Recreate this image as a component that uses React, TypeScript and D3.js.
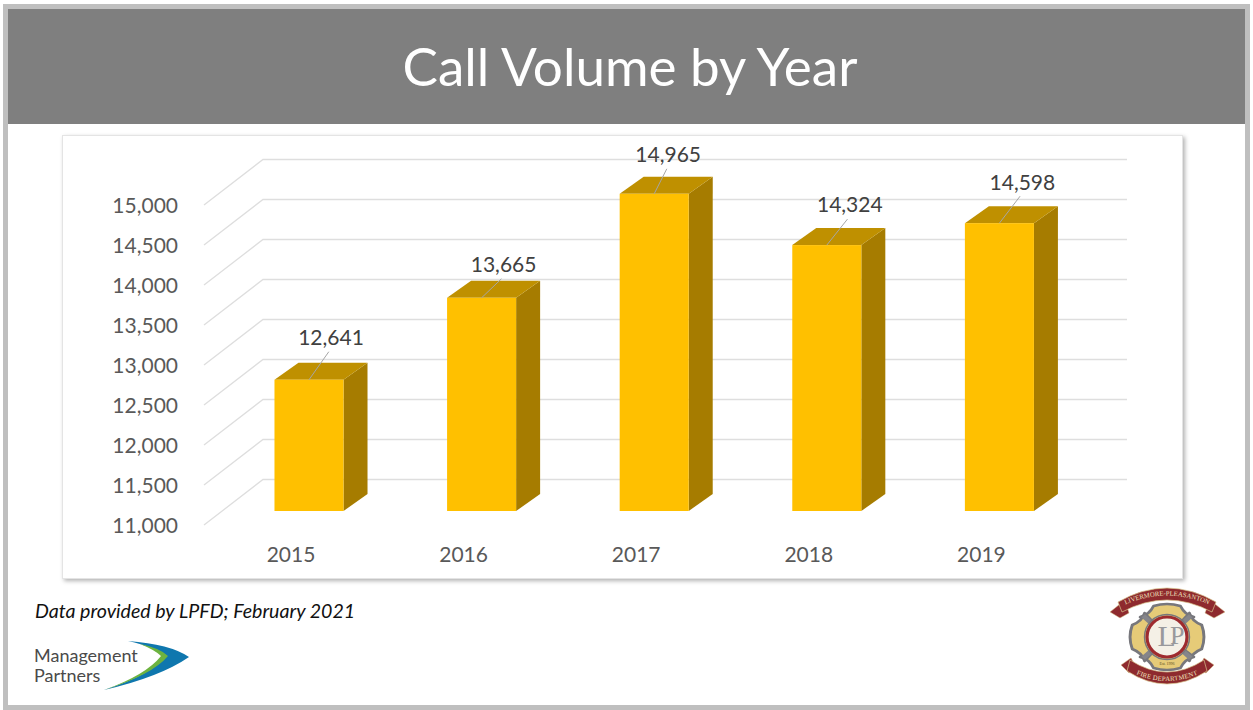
import React from 'react'
import * as d3 from 'd3'

const years = ['2015', '2016', '2017', '2018', '2019']
const calls = [12641, 13665, 14965, 14324, 14598]
const yTicks = [11000, 11500, 12000, 12500, 13000, 13500, 14000, 14500, 15000]

// hand placed labels in the original, offset from bar centre / bar top
const labelDx = [22, 22, 14, 23, 23]
const labelDy = [-42, -33, -39, -40, -41]

const FONT = 'Lato, Carlito, "Open Sans", sans-serif'
const SERIF = '"Liberation Serif", serif'
const TEXT = '#595959'
const GRID = '#DEDEDE'
const RIBBON = '#8E2A2E'

// 3d offsets
const depthX = 24
const depthY = -17
const wallX = 59
const wallY = -45.5

const x = d3.scaleBand<string>().domain(years).range([222.7, 1085.7]).paddingInner(0.6).paddingOuter(0.3)
const barY = d3.scaleLinear().domain([11000, 15000]).range([511, 191])
const frontY = d3.scaleLinear().domain([11000, 15000]).range([525, 205])
const fmt = d3.format(',')

const poly = d3.line()

function Emblem() {
  // maltese cross, one arm rotated four times
  const arm = 'M0,0 L-24,-20 Q-16,-22 -12,-31 Q0,-35 12,-31 Q16,-22 24,-20 Z'
  const angles = [0, 90, 180, 270]
  return (
    <g transform="translate(1167,637)">
      <g transform="scale(1.12,1)">
        {angles.map(a => (
          <path key={a} d={arm} transform={`rotate(${a})`} fill="#E6CB78" stroke="#77777C" strokeWidth={2.6} strokeLinejoin="round" />
        ))}
        {angles.map(a => (
          <line key={a} x1={0} y1={0} x2={0} y2={-30} stroke="#85858A" strokeWidth={4.5} transform={`rotate(${a + 45})`} />
        ))}
      </g>
      <circle r={20} fill="#F4F0E6" stroke="#9E2B2F" strokeWidth={3.2} />
      <circle r={22.5} fill="none" stroke="#77777C" strokeWidth={1.4} />
      <text x={1} y={9} textAnchor="middle" fontFamily={SERIF} fontSize={30} letterSpacing={-6} fill="#99999C">
        L<tspan dy={-2} fontSize={26}>P</tspan>
      </text>
      <text x={0} y={28} textAnchor="middle" fontFamily={SERIF} fontSize={4} fill="#5E4A20">Est. 1996</text>

      <defs>
        <path id="ribbon-top" d="M-50,-28 Q0,-54 50,-28" />
        <path id="ribbon-bottom" d="M-40,28 Q0,52 40,28" />
      </defs>
      <path d="M-57,-25 L-42,-37 L-38,-24 L-47,-19 Z" fill={RIBBON} stroke="#D8C48C" strokeWidth={0.5} />
      <path d="M58,-25 L43,-37 L38,-24 L47,-19 Z" fill={RIBBON} stroke="#D8C48C" strokeWidth={0.5} />
      <path d="M-49,-35 Q0,-63 49,-35 L45,-25 Q0,-49 -45,-25 Z" fill={RIBBON} stroke="#D8C48C" strokeWidth={0.7} />
      <text fontFamily={SERIF} fontSize={6.7} fill="#F1E2BE" dy={-0.5}>
        <textPath href="#ribbon-top" startOffset="50%" textAnchor="middle">LIVERMORE-PLEASANTON</textPath>
      </text>
      <path d="M-46,28 L-36,21 L-30,32 L-38,36 Z" fill={RIBBON} stroke="#D8C48C" strokeWidth={0.5} />
      <path d="M47,28 L37,21 L31,32 L39,36 Z" fill={RIBBON} stroke="#D8C48C" strokeWidth={0.5} />
      <path d="M-37,23 Q0,47 37,23 L40,34 Q0,60 -40,34 Z" fill={RIBBON} stroke="#D8C48C" strokeWidth={0.7} />
      <text fontFamily={SERIF} fontSize={6.7} fill="#F1E2BE" dy={4}>
        <textPath href="#ribbon-bottom" startOffset="50%" textAnchor="middle">FIRE DEPARTMENT</textPath>
      </text>
    </g>
  )
}

function PartnersLogo() {
  return (
    <g>
      <text x={34} y={662} fontFamily={FONT} fontSize={18} fill="#4A4A4A">Management</text>
      <text x={34} y={682} fontFamily={FONT} fontSize={18} fill="#4A4A4A">Partners</text>
      <path d="M128,641 Q170,644 189,657 Q160,677 104,690 Q150,675 167,656 Q155,647 128,641 Z" fill="#0F77AE" />
      <path d="M140,644 Q160,648 168,656 Q152,675 104,690 Q146,675 161,656 Q155,650 140,644 Z" fill="#6DB33F" />
    </g>
  )
}

export default function App() {
  const bw = x.bandwidth()
  return (
    <svg width={1253} height={710} style={{ position: 'fixed', left: 0, top: 0, background: '#fff' }}>
      <defs>
        <filter id="box-shadow" x="-2%" y="-2%" width="104%" height="104%">
          <feDropShadow dx={2} dy={2} stdDeviation={2} floodColor="#000" floodOpacity={0.3} />
        </filter>
      </defs>

      <rect x={5.5} y={6.5} width={1242} height={701} fill="#fff" stroke="#BFBFBF" strokeWidth={5} />
      <rect x={8} y={9} width={1237} height={115} fill="#7F7F7F" />
      <text x={630} y={86} textAnchor="middle" fontFamily={FONT} fontSize={53} fill="#fff">Call Volume by Year</text>

      <rect x={62.5} y={135.5} width={1120} height={443} fill="#fff" stroke="#E4E4E4" filter="url(#box-shadow)" />

      <g fill="none" stroke={GRID} strokeWidth={1.3}>
        {yTicks.map(t => {
          const fy = frontY(t)
          const points: [number, number][] = [[204, fy], [204 + wallX, fy + wallY], [1127, fy + wallY]]
          return <path key={t} d={poly(points) ?? ''} />
        })}
      </g>

      {yTicks.map(t => (
        <text key={t} x={178} y={frontY(t) + 1} dy="0.35em" textAnchor="end" fontFamily={FONT} fontSize={21} fill={TEXT}>
          {fmt(t)}
        </text>
      ))}

      {years.map((yr, i) => {
        const left = x(yr) ?? 0
        const right = left + bw
        const top = barY(calls[i])
        const bottom = barY(11000)
        const mid = left + bw / 2
        const cap: [number, number][] = [[left, top], [right, top], [right + depthX, top + depthY], [left + depthX, top + depthY]]
        const side: [number, number][] = [[right, top], [right + depthX, top + depthY], [right + depthX, bottom + depthY], [right, bottom]]
        return (
          <g key={yr}>
            <path d={poly(side) + 'Z'} fill="#A67C00" />
            <path d={poly(cap) + 'Z'} fill="#BF9000" />
            <rect x={left} y={top} width={bw} height={bottom - top} fill="#FFC000" />
            <line x1={mid} y1={top} x2={mid + labelDx[i] * 0.9} y2={top + labelDy[i] + 14} stroke="#A6A6A6" strokeWidth={1} />
            <text x={mid + labelDx[i]} y={top + labelDy[i]} dy="0.35em" textAnchor="middle" fontFamily={FONT} fontSize={21} fill="#404040">
              {fmt(calls[i])}
            </text>
            <text x={mid - 18} y={555} dy="0.35em" textAnchor="middle" fontFamily={FONT} fontSize={21} fill={TEXT}>
              {yr}
            </text>
          </g>
        )
      })}

      <text x={35} y={618} fontFamily={FONT} fontSize={19.6} fontStyle="italic" fill="#111">
        Data provided by LPFD; February 2021
      </text>
      <PartnersLogo />
      <Emblem />
    </svg>
  )
}
